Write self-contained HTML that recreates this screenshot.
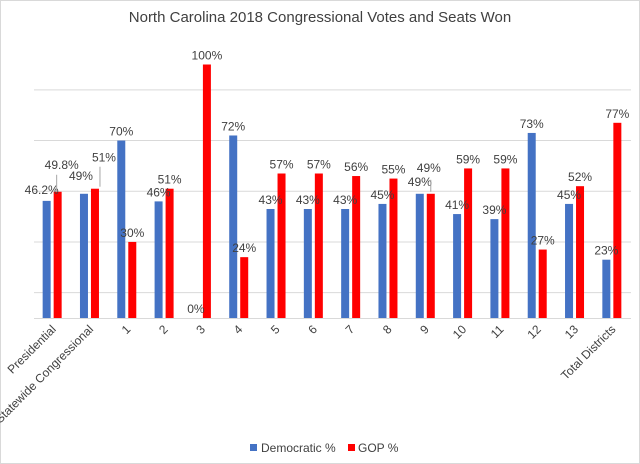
<!DOCTYPE html>
<html><head><meta charset="utf-8"><style>
body{margin:0;background:#fff}
svg{display:block;font-family:"Liberation Sans",sans-serif}
</style></head><body>
<svg id="c" width="640" height="464">
<rect x="0.5" y="0.5" width="639" height="463" fill="#fff" stroke="#d9d9d9"/>
<text x="320" y="22" text-anchor="middle" font-size="15" fill="#404040">North Carolina 2018 Congressional Votes and Seats Won</text>
<g id="grid"></g><g id="bars"></g><g id="labels"></g><g id="xlabels"></g>
<g>
<rect x="250" y="444" width="7" height="7" fill="#4472c4"/>
<text x="261" y="452" font-size="12" fill="#404040">Democratic %</text>
<rect x="348" y="444" width="7" height="7" fill="#ff0000"/>
<text x="358" y="452" font-size="12" fill="#404040">GOP %</text>
</g>
</svg>
<script>
const cats=["Presidential","Statewide Congressional","1","2","3","4","5","6","7","8","9","10","11","12","13","Total Districts"];
const demValues=[46.2,49,70,46,0,72,43,43,43,45,49,41,39,73,45,23];
const gopValues=[49.8,51,30,51,100,24,57,57,56,55,49,59,59,27,52,77];
const demLabels=["46.2%","49%","70%","46%","0%","72%","43%","43%","43%","45%","49%","41%","39%","73%","45%","23%"];
const gopLabels=["49.8%","51%","30%","51%","100%","24%","57%","57%","56%","55%","49%","59%","59%","27%","52%","77%"];
const gridTicks=[10,30,50,70,90];
const NS="http://www.w3.org/2000/svg";
const X0=34,X1=631,Y0=318,PX=2.535;
const n=cats.length,bw=(X1-X0)/n;
const y=v=>Y0-v*PX;
const cx=i=>X0+bw*(i+0.5);
function mk(t,a,p){const e=document.createElementNS(NS,t);for(const k in a)e.setAttribute(k,a[k]);p.appendChild(e);return e;}
const G=document.getElementById('grid'),B=document.getElementById('bars'),L=document.getElementById('labels'),XL=document.getElementById('xlabels');
gridTicks.forEach(t=>{const l=mk('line',{x1:X0,x2:X1,y1:y(t),y2:y(t),stroke:'#d9d9d9','stroke-width':1},G);

});
const ax=mk('line',{x1:X0,x2:X1,y1:Y0+0.5,y2:Y0+0.5,stroke:'#d9d9d9'},G);


const offs={0:[[-5,-2],[4,-18]],1:[[-3,-9],[9,-22]],10:[[0,-3],[-2,-17]]};
cats.forEach((c,i)=>{
  const c0=cx(i);
  const bd=mk('rect',{x:c0-10,y:y(demValues[i]),width:8,height:Math.max(0,Y0-y(demValues[i])),fill:'#4472c4'},B);
  
  
  const bg=mk('rect',{x:c0+1,y:y(gopValues[i]),width:8,height:Y0-y(gopValues[i]),fill:'#ff0000'},B);
  
  
  const o=offs[i]||[[0,0],[0,0]];
  const td=mk('text',{x:c0-6+o[0][0],y:y(demValues[i])-5+o[0][1],'text-anchor':'middle','font-size':12,fill:'#404040'},L);
  td.textContent=demLabels[i];
  
  
  const tg=mk('text',{x:c0+5+o[1][0],y:y(gopValues[i])-5+o[1][1],'text-anchor':'middle','font-size':12,fill:'#404040'},L);
  tg.textContent=gopLabels[i];
  
  
  const xl=mk('text',{x:c0+4,y:330,'text-anchor':'end','font-size':12,fill:'#404040',transform:`rotate(-45 ${c0+4} 330)`},XL);
  xl.textContent=c;
  
  
});
[[cx(0)+4,y(gopValues[0])-17,cx(0)+4,y(gopValues[0])],[cx(1)+10,y(gopValues[1])-22,cx(1)+10,y(gopValues[1])-2],[cx(10)+5,y(gopValues[10])-14,cx(10)+5,y(gopValues[10])-2]].forEach(p=>{
  const l=mk('line',{x1:p[0],y1:p[1],x2:p[2],y2:p[3],stroke:'#a6a6a6'},L);
  
  
});
</script>
</body></html>
